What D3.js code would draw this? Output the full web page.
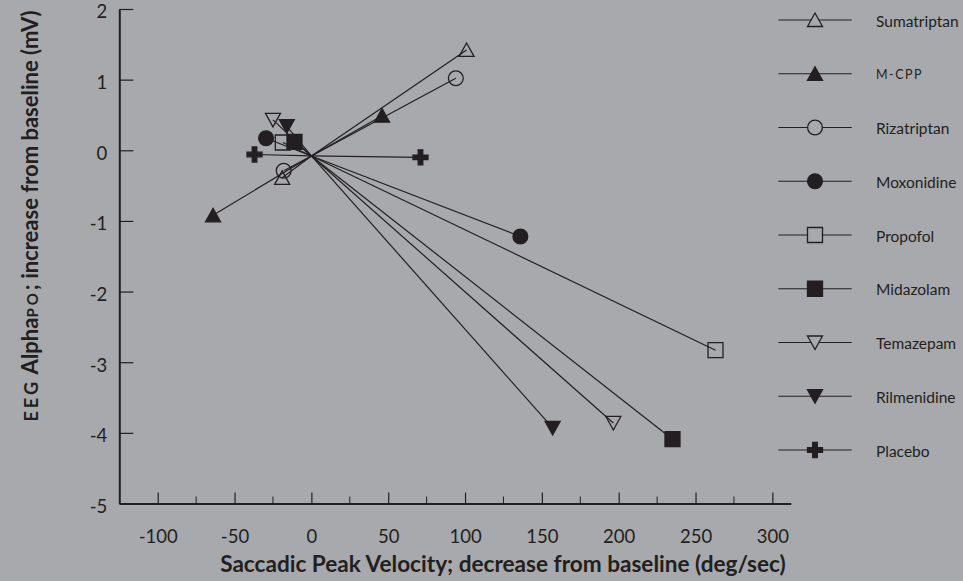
<!DOCTYPE html>
<html>
<head>
<meta charset="utf-8">
<script src="https://d3js.org/d3.v7.min.js"></script>
<style>
  body { margin: 0; background: #a7a9ac; }
  svg { display: block; font-family: Lato, "Open Sans", sans-serif; }
</style>
</head>
<body>
<script>
  // drugs, in legend order
  var drugs   = ["Sumatriptan", "M-CPP", "Rizatriptan", "Moxonidine", "Propofol", "Midazolam", "Temazepam", "Rilmenidine", "Placebo"]
  var shapes  = ["triUp", "triUp", "circle", "circle", "square", "square", "triDown", "triDown", "plus"]
  var filled  = [false, true, false, true, false, true, false, true, true]

  // the two points of each drug (saccadic peak velocity, EEG alpha)
  var spvNear = [-19, -64, -18, -29.5, -18.6, -11, -25, -16, -37]
  var eegNear = [-0.39, -0.92, -0.29, 0.17, 0.11, 0.12, 0.43, 0.34, -0.06]
  var spvFar  = [101, 46, 94, 136, 263, 235, 196.5, 157, 71]
  var eegFar  = [1.42, 0.49, 1.02, -1.22, -2.83, -4.09, -3.86, -3.93, -0.1]
  // point where all the lines meet
  var centre  = [0, -0.08]

  var xTicks = [-100, -50, 0, 50, 100, 150, 200, 250, 300]
  var xMinor = [-75, -25, 25, 75, 125, 175, 225, 275]
  var yTicks = [2, 1, 0, -1, -2, -3, -4, -5]

  var width = 963
  var height = 581
  var ink = "#231f20"

  var x = d3.scaleLinear().domain([-125, 312]).range([119.3, 790.8])
  var y = d3.scaleLinear().domain([-5, 2]).range([503.5, 9])

  var svg = d3.select("body").append("svg")
              .attr("width", width)
              .attr("height", height)

  function symbolPath(s) {
    if (s == "triUp") return "M0,-7L7.5,6.5L-7.5,6.5Z"
    if (s == "triDown") return "M0,7L7.5,-6.5L-7.5,-6.5Z"
    if (s == "circle") return d3.symbol(d3.symbolCircle, Math.PI * 7.4 * 7.4)()
    if (s == "square") return "M-7.5,-7.5h15v15h-15Z"
    return "M-7.5,-2.3h5.2v-5.2h4.6v5.2h5.2v4.6h-5.2v5.2h-4.6v-5.2h-5.2Z"
  }

  // x axis
  var gx = svg.append("g")
              .attr("transform", "translate(0," + y(-5) + ")")
              .call(d3.axisBottom(x).tickValues(xTicks).tickSize(-11).tickSizeOuter(0)
                      .tickPadding(26).tickFormat(function(d) { return String(d) }))
  gx.selectAll(".minor")
    .data(xMinor)
    .enter()
    .append("line")
    .attr("x1", function(d) { return x(d) })
    .attr("x2", function(d) { return x(d) })
    .attr("y1", 0)
    .attr("y2", -7)
    .attr("stroke", ink)

  // y axis
  var gy = svg.append("g")
              .attr("transform", "translate(" + x(-125) + ",0)")
              .call(d3.axisLeft(y).tickValues(yTicks).tickSize(-14).tickSizeOuter(0)
                      .tickPadding(12).tickFormat(function(d) { return String(d) }))
  gy.selectAll(".tick text").attr("dy", "0.48em")

  svg.selectAll(".domain").attr("stroke", ink).attr("stroke-width", 2)
  svg.selectAll(".tick line").attr("stroke", ink).attr("stroke-width", 1.2)
  svg.selectAll(".tick text").attr("fill", ink).style("font-size", "18.5px").style("font-family", "Lato")

  // axis titles
  svg.append("text")
     .attr("x", 503)
     .attr("y", 572)
     .attr("text-anchor", "middle")
     .attr("fill", ink)
     .style("font-size", "22.6px")
     .style("font-weight", "bold")
     .text("Saccadic Peak Velocity; decrease from baseline (deg/sec)")

  var yt = svg.append("text")
              .attr("transform", "translate(38,216) rotate(-90)")
              .attr("text-anchor", "middle")
              .attr("fill", ink)
              .style("font-size", "22px")
              .style("font-weight", "bold")
  yt.append("tspan").style("font-size", "18px").style("letter-spacing", "3px").text("EEG")
  yt.append("tspan").text(" Alpha")
  yt.append("tspan").style("font-size", "15px").style("letter-spacing", "3px").text("PO")
  yt.append("tspan").text("; increase from baseline (mV)")

  // lines from the meeting point out to each marker
  var idx = d3.range(drugs.length)
  var lines = svg.append("g")
  idx.forEach(function(i) {
    [[spvNear[i], eegNear[i]], [spvFar[i], eegFar[i]]].forEach(function(p) {
      lines.append("line")
           .attr("x1", x(centre[0]))
           .attr("y1", y(centre[1]))
           .attr("x2", x(p[0]))
           .attr("y2", y(p[1]))
           .attr("stroke", ink)
           .attr("stroke-width", 1.2)
    })
  })

  // markers
  var pts = []
  idx.forEach(function(i) {
    pts.push({ i: i, sx: spvNear[i], ey: eegNear[i] })
    pts.push({ i: i, sx: spvFar[i], ey: eegFar[i] })
  })
  svg.append("g").selectAll("path")
     .data(pts)
     .enter()
     .append("path")
     .attr("transform", function(d) { return "translate(" + x(d.sx) + "," + y(d.ey) + ")" })
     .attr("d", function(d) { return symbolPath(shapes[d.i]) })
     .attr("fill", function(d) { return filled[d.i] ? ink : "none" })
     .attr("stroke", ink)
     .attr("stroke-width", 1.3)

  // legend
  var legend = svg.append("g").selectAll("g")
                  .data(idx)
                  .enter()
                  .append("g")
                  .attr("transform", function(i) { return "translate(0," + (20 + i * 53.75) + ")" })
  legend.append("line")
        .attr("x1", 778.3)
        .attr("x2", 851.7)
        .attr("stroke", ink)
        .attr("stroke-width", 1.2)
  legend.append("path")
        .attr("transform", "translate(815,0)")
        .attr("d", function(i) { return symbolPath(shapes[i]) })
        .attr("fill", function(i) { return filled[i] ? ink : "#a7a9ac" })
        .attr("stroke", ink)
        .attr("stroke-width", 1.3)
  legend.append("text")
        .attr("x", 876)
        .attr("dy", "0.42em")
        .attr("fill", ink)
        .style("font-size", function(i) { return drugs[i] == "M-CPP" ? "12.5px" : "15.5px" })
        .style("letter-spacing", function(i) { return drugs[i] == "M-CPP" ? "1.5px" : "0px" })
        .text(function(i) { return drugs[i] })
</script>
</body>
</html>
